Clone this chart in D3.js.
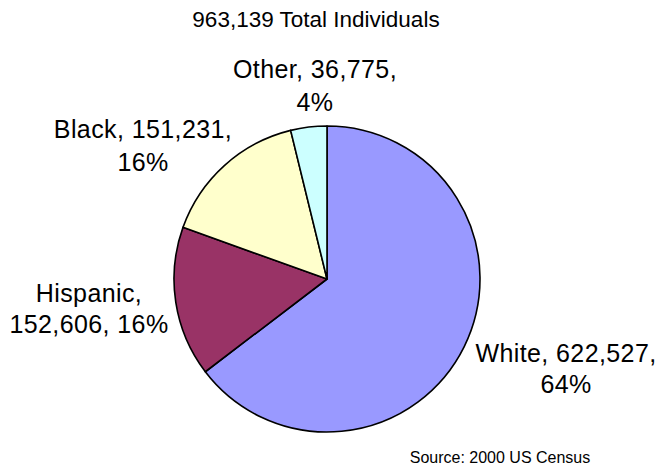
<!DOCTYPE html>
<html>
<head>
<meta charset="utf-8">
<script src="https://cdn.jsdelivr.net/npm/d3@7"></script>
<style>
  html, body { margin: 0; padding: 0; background: #fff; }
  svg { display: block; }
  text { font-family: "Liberation Sans", Arial, sans-serif; fill: #000; }
</style>
</head>
<body>
<svg id="chart" width="658" height="466"></svg>
<script>
const categories = ["White", "Hispanic", "Black", "Other"];
const values = [622527, 152606, 151231, 36775];
const percents = ["64%", "16%", "16%", "4%"];
const colors = ["#9999FF", "#993366", "#FFFFCC", "#CCFFFF"];
const labelLines = [
  ["White, 622,527,", "64%"],
  ["Hispanic,", "152,606, 16%"],
  ["Black, 151,231,", "16%"],
  ["Other, 36,775,", "4%"]
];
const titleText = "963,139 Total Individuals";
const sourceText = "Source: 2000 US Census";

const svg = d3.select("#chart");
const W = 658, H = 466;
const cx = 327, cy = 279, r = 153;

const data = categories.map((c, i) => ({ name: c, value: values[i], color: colors[i], lines: labelLines[i] }));

const pie = d3.pie().sort(null).value(d => d.value).startAngle(0).endAngle(2 * Math.PI);
const arc = d3.arc().innerRadius(0).outerRadius(r);

const g = svg.append("g").attr("transform", `translate(${cx},${cy})`);
g.selectAll("path").data(pie(data)).enter().append("path")
  .attr("d", arc)
  .attr("fill", d => d.data.color)
  .attr("stroke", "#000")
  .attr("stroke-width", 1.6)
  .attr("stroke-linejoin", "round");

// label anchors (center x, first baseline y)
const labelPos = [
  { x: 566, y: 362, dy: 31 },
  { x: 89, y: 302, dy: 31 },
  { x: 143, y: 138, dy: 33 },
  { x: 315, y: 78, dy: 33 }
];

data.forEach((d, i) => {
  const p = labelPos[i];
  const t = svg.append("text")
    .attr("text-anchor", "middle")
    .attr("font-size", 25)
    .attr("letter-spacing", 0.4);
  d.lines.forEach((ln, j) => {
    t.append("tspan").attr("x", p.x).attr("y", p.y + j * p.dy).text(ln);
  });
});

svg.append("text")
  .attr("x", 316).attr("y", 27)
  .attr("text-anchor", "middle")
  .attr("font-size", 22.5)
  .text(titleText);

svg.append("text")
  .attr("x", 500).attr("y", 463)
  .attr("text-anchor", "middle")
  .attr("font-size", 16)
  .text(sourceText);
</script>
</body>
</html>
